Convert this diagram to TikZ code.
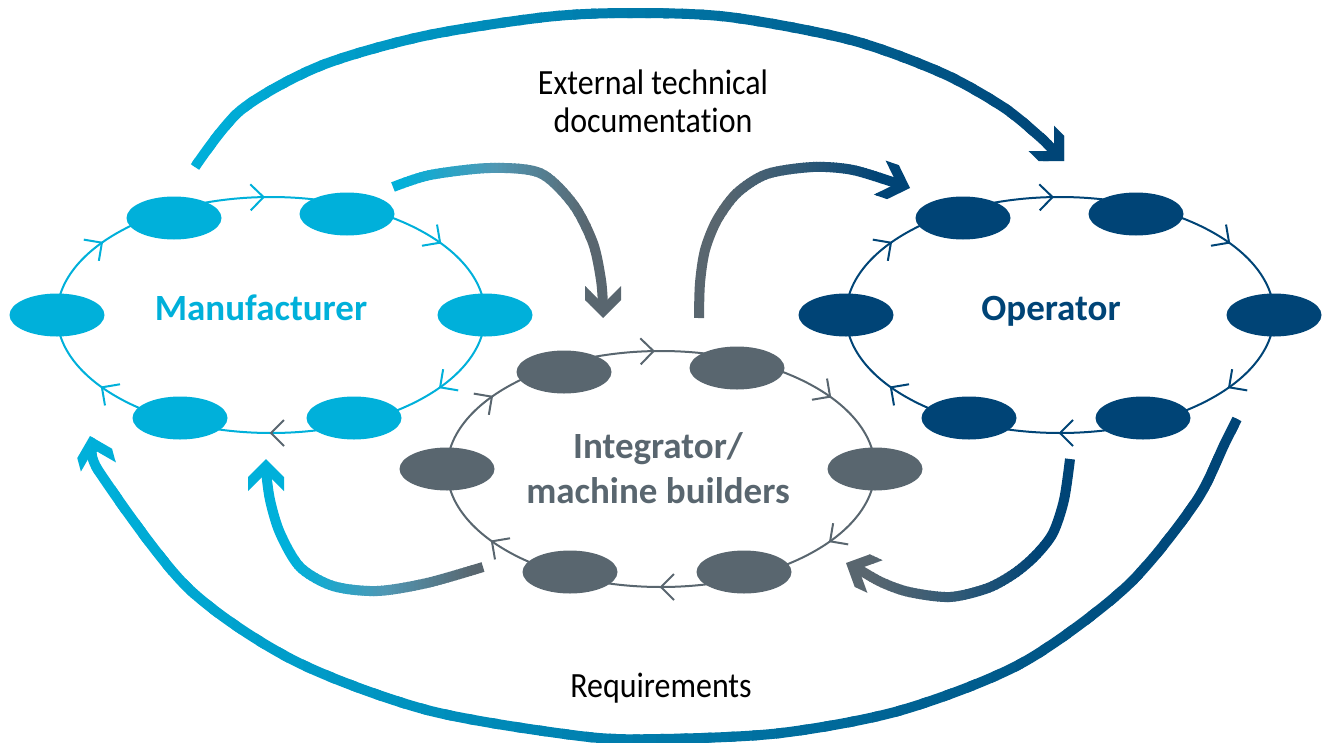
\documentclass[tikz,border=0pt]{standalone}
\usepackage{fontspec}
\setmainfont[Ligatures=NoCommon]{Carlito}
\newfontfamily\captionfont[FakeStretch=0.9, Ligatures=NoCommon]{Carlito}
\usetikzlibrary{shapes.geometric}

\definecolor{mfcyan}{RGB}{0,176,218}
\definecolor{opblue}{RGB}{0,68,118}
\definecolor{intgrey}{RGB}{89,102,111}
\definecolor{midblue}{RGB}{0,122,170}
\definecolor{steel}{RGB}{80,152,180}
\definecolor{slate}{RGB}{50,90,118}

\tikzset{
  stage/.style={ellipse, minimum width=95pt, minimum height=43pt, inner sep=0pt, fill=#1},
  ring/.style={line width=2pt, draw=#1},
  chevron/.style={line width=2pt, draw=#1},
  title/.style={font=\fontsize{37}{45}\selectfont\bfseries, text=#1, align=center},
  caption/.style={font=\captionfont\fontsize{35.5}{38}\selectfont, text=black, align=center},
  flow/.style={line width=10pt},
}

% broad arrowhead: tip at #1, pointing along angle #2
\newcommand\flowhead[2]{%
  \fill[shift={(#1)}, rotate=#2] (0,0) -- (-18,18) -- (-32,18) -- (-14,0) -- (-32,-18) -- (-18,-18) -- cycle;}

% strips of a horizontal colour ramp, each one clipping the same drawing
\newcommand\flowpart[5]{% #1 x start, #2 x end, #3 colour at start, #4 colour at end, #5 drawing
  \foreach \k in {1,...,24}{%
    \pgfmathsetmacro\xa{#1+(#2-#1)*(\k-1.15)/24}%
    \pgfmathsetmacro\xb{#1+(#2-#1)*(\k+0.15)/24}%
    \pgfmathtruncatemacro\w{round(100*(\k-0.5)/24)}%
    \colorlet{flowc}{#4!\w!#3}%
    \begin{scope}
      \clip (\xa,-50) rectangle (\xb,800);
      \begin{scope}[color=flowc] #5 \end{scope}
    \end{scope}%
  }%
}
% #1,#2,#3 x of first, middle and last colour; #4,#5,#6 the colours; #7 drawing
\newcommand\gradflow[7]{%
  \begin{scope}\clip (#1+3*#1-3*#3,-50) rectangle (#1,800);
    \begin{scope}[color=#4] #7 \end{scope}\end{scope}
  \flowpart{#1}{#2}{#4}{#5}{#7}
  \flowpart{#2}{#3}{#5}{#6}{#7}
  \begin{scope}\clip (#3,-50) rectangle (#3+3*#3-3*#1,800);
    \begin{scope}[color=#6] #7 \end{scope}\end{scope}
}

% a ring of six stages with chevrons between them
\newcommand\stagecycle[5]{% #1 name prefix, #2 x shift, #3 y shift, #4 colour, #5 colour of the lowest chevron
  \begin{scope}[shift={(#2,#3)}]
    \coordinate (#1c) at (271,315);
    \draw[ring=#4] (#1c) ellipse [x radius=214, y radius=118];
    \foreach \t/\cc in {-37.8/#4, 37.8/#4, 90/#5, 142.2/#4, 217.8/#4, 268/#4}{
      \pgfmathsetmacro\px{271+214*cos(\t)}
      \pgfmathsetmacro\py{315+118*sin(\t)}
      \pgfmathsetmacro\ph{atan2(118*cos(\t),-214*sin(\t))}
      \draw[chevron=\cc, shift={(\px,\py)}, rotate=\ph] (-13,-13) -- (0,0) -- (-13,13);
    }
    \node[stage=#4] (#1a) at (174,218) {};
    \node[stage=#4] (#1b) at (347,214) {};
    \node[stage=#4] (#1r) at (485,315) {};
    \node[stage=#4] (#1d) at (354,418) {};
    \node[stage=#4] (#1e) at (180,418) {};
    \node[stage=#4] (#1l) at (57,315) {};
  \end{scope}
}

% the six broad flows
\newcommand\docflow{%
  \draw[flow] plot[smooth] coordinates {(docS) (241,110) (320,66) (424,36) (546,17) (631,13) (729,17) (851,40) (942,73) (1003,107) (1040,137) (1055.5,152.5)};
  \flowhead{docT}{45}}
\newcommand\reqflow{%
  \draw[flow] plot[smooth] coordinates {(reqS) (1225,443) (1195,503) (1126,587) (1022,663) (902,710) (781,733) (660,739) (580,736) (427,710) (293,660) (187,587) (100,473) (93.1,447.6)};
  \flowhead{reqT}{255}}
\newcommand\mtoi{%
  \draw[flow] plot[smooth] coordinates {(miS) (430,175) (490,168) (540,173) (573,204) (593,243) (601,280) (603,306)};
  \flowhead{miT}{90}}
\newcommand\itoo{%
  \draw[flow] plot[smooth] coordinates {(ioS) (700,283) (705,250) (717,220) (737,193) (767,174) (813,167) (853,170) (898.7,184.1)};
  \flowhead{ioT}{19}}
\newcommand\otoi{%
  \draw[flow] plot[smooth] coordinates {(oiS) (1064,500) (1053,533) (1036,555) (1015,573) (988,588) (950,597) (909,592) (881,582) (856.9,568.1)};
  \flowhead{oiT}{205}}
\newcommand\itom{%
  \draw[flow] plot[smooth] coordinates {(imS) (427,583) (377,591) (333,586) (300,567) (280,533) (270,500) (266,471)};
  \flowhead{imT}{270}}

\begin{document}
\begin{tikzpicture}[x=1pt, y=1pt, yscale=-1]
  \useasboundingbox (0,0) rectangle (1325,742);

  % ends of the flows
  \coordinate (docS) at (195,167);  \coordinate (docT) at (1064,161);
  \coordinate (reqS) at (1237,419); \coordinate (reqT) at (90,436);
  \coordinate (miS) at (393,187);   \coordinate (miT) at (603,318);
  \coordinate (ioS) at (699,318);   \coordinate (ioT) at (910,188);
  \coordinate (oiS) at (1070,459);  \coordinate (oiT) at (846,563);
  \coordinate (imS) at (483,567);   \coordinate (imT) at (266,459);

  \gradflow{195}{630}{1064}{mfcyan}{midblue}{opblue}{\docflow}
  \gradflow{95}{660}{1235}{mfcyan}{midblue}{opblue}{\reqflow}
  \gradflow{400}{495}{590}{mfcyan}{steel}{intgrey}{\mtoi}
  \gradflow{720}{800}{880}{intgrey}{slate}{opblue}{\itoo}
  \gradflow{870}{955}{1040}{intgrey}{slate}{opblue}{\otoi}
  \gradflow{295}{385}{475}{mfcyan}{steel}{intgrey}{\itom}

  % the three parties
  \stagecycle{m}{0}{0}{mfcyan}{intgrey}
  \stagecycle{i}{390}{154}{intgrey}{intgrey}
  \stagecycle{o}{789}{0}{opblue}{opblue}

  \node[title=mfcyan, anchor=base] (mtitle) at (261,320) {Manufacturer};
  \node[title=opblue, anchor=base] (otitle) at (1051,320) {Operator};
  \node[title=intgrey, anchor=base] (ititle) at (658,503) {Integrator/\\machine builders};

  \node[caption, anchor=base] (doclabel) at (653,132) {External technical\\documentation};
  \node[caption, anchor=base] (reqlabel) at (661,697) {Requirements};
\end{tikzpicture}
\end{document}
